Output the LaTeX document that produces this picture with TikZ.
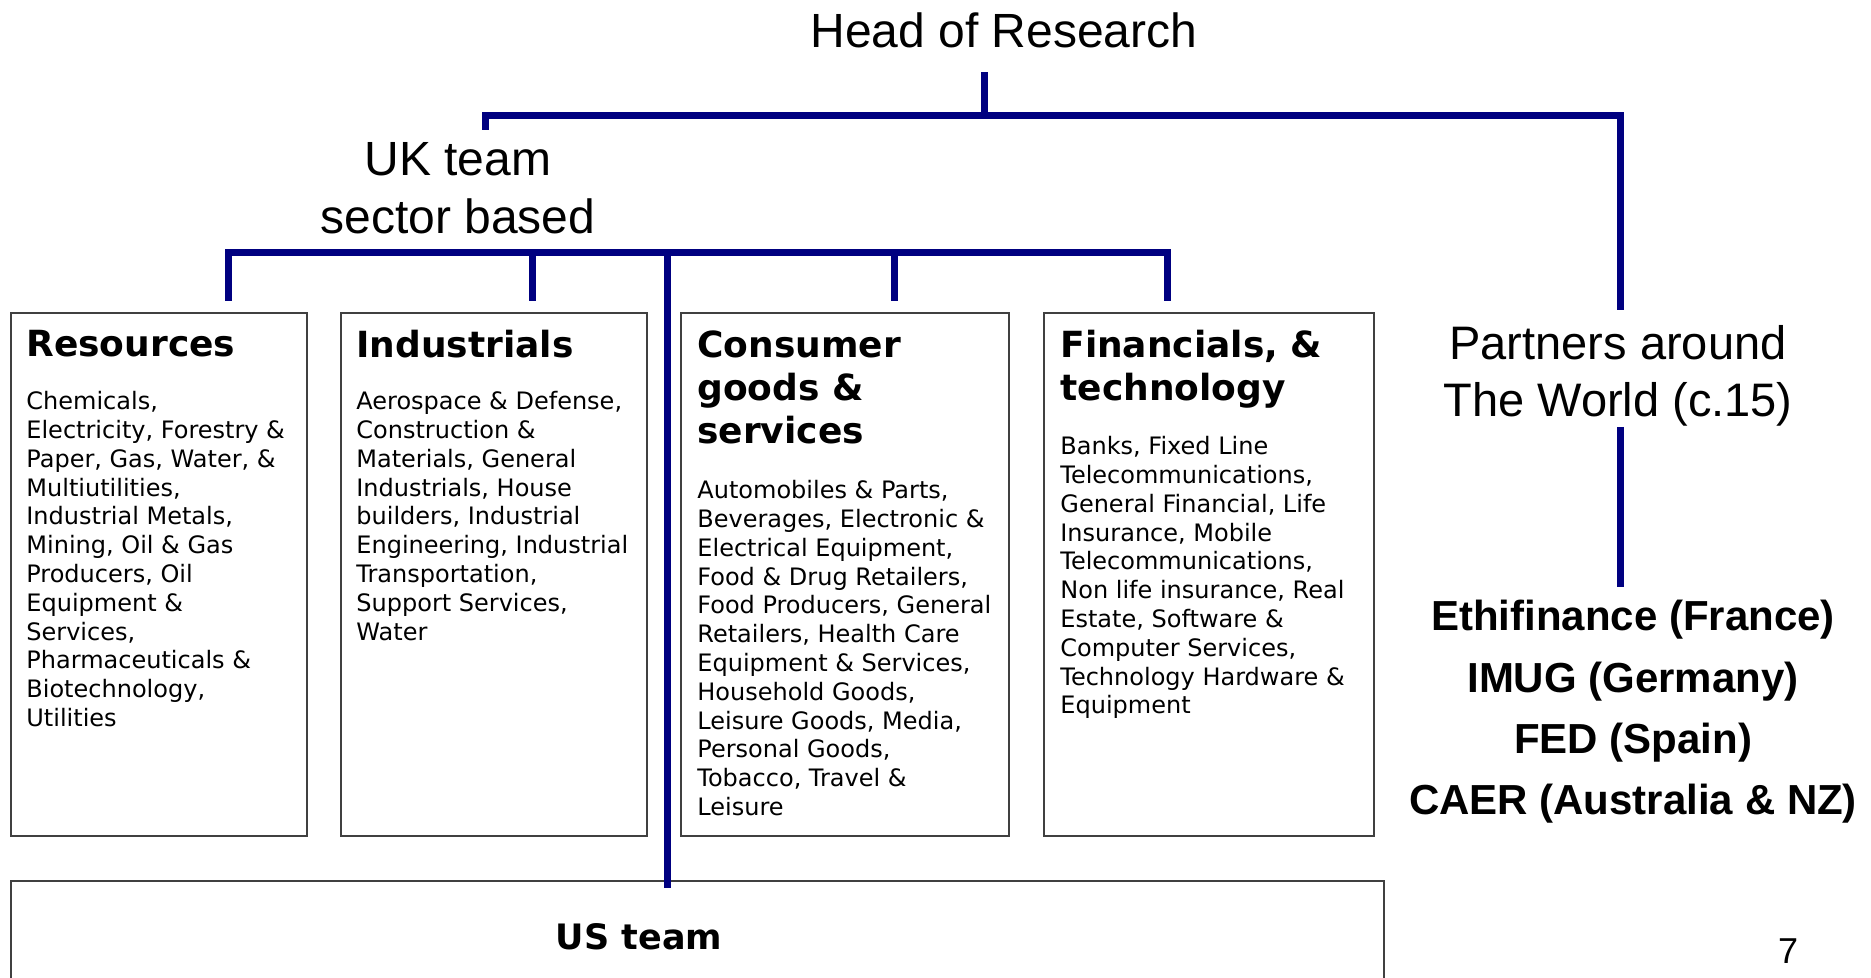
\documentclass[tikz,border=0pt]{standalone}
\usepackage{fontspec}
\setmainfont{Liberation Sans}
\newfontfamily\boxfont{DejaVu Sans}
\usepackage{tikz}
\definecolor{navy}{RGB}{0,0,128}
\newcommand{\hdfont}{\boxfont\bfseries\fontsize{18}{21.5}\selectfont}
\newcommand{\txfont}{\boxfont\fontsize{12}{14.4}\selectfont}

\begin{document}
\begin{tikzpicture}[x=0.5pt, y=-0.5pt,
    link/.style={navy, line width=3.5pt},
    sector/.style={draw=black!75, line width=1pt, anchor=north west, inner sep=0pt, outer sep=0pt},
    head/.style={anchor=north west, inner sep=0pt, align=left, font=\hdfont},
    body/.style={anchor=north west, inner sep=0pt, align=left, font=\txfont},
    title/.style={anchor=north, inner sep=0pt, align=center, font=\fontsize{24}{29}\selectfont}]
  \clip (0,0) rectangle (1871,978);
  \fill[white] (0,0) rectangle (1871,978);

  \node[title] (head) at (1004,12) {Head of Research};
  \node[title] (uk) at (458,142) {UK team\\sector based};
  \node[title, font=\fontsize{23.5}{28.6}\selectfont] (partners) at (1618,325) {Partners around\\The World (c.15)};
  \node[title, font=\bfseries\fontsize{21}{30.6}\selectfont] (list) at (1633,600)
    {Ethifinance (France)\\IMUG (Germany)\\FED (Spain)\\CAER (Australia \& NZ)};

  % sector boxes
  \node[sector, minimum width=148pt, minimum height=261.5pt] (res) at (11,313) {};
  \node[sector, minimum width=153pt, minimum height=261.5pt] (ind) at (341,313) {};
  \node[sector, minimum width=164pt, minimum height=261.5pt] (con) at (681,313) {};
  \node[sector, minimum width=165pt, minimum height=261.5pt] (fin) at (1044,313) {};
  \node[sector, minimum width=686.5pt, minimum height=80pt] (us) at (11,881) {};

  \node[head] (resH) at (26,330) {Resources};
  \node[body] (resB) at (26,391) {Chemicals,\\Electricity, Forestry \&\\Paper, Gas, Water, \&\\Multiutilities,\\Industrial Metals,\\Mining, Oil \& Gas\\Producers, Oil\\Equipment \&\\Services,\\Pharmaceuticals \&\\Biotechnology,\\Utilities};
  \node[head] (indH) at (356,330) {Industrials};
  \node[body] (indB) at (356,391) {Aerospace \& Defense,\\Construction \&\\Materials, General\\Industrials, House\\builders, Industrial\\Engineering, Industrial\\Transportation,\\Support Services,\\Water};
  \node[head] (conH) at (697,330) {Consumer\\goods \&\\services};
  \node[body] (conB) at (697,480) {Automobiles \& Parts,\\Beverages, Electronic \&\\Electrical Equipment,\\Food \& Drug Retailers,\\Food Producers, General\\Retailers, Health Care\\Equipment \& Services,\\Household Goods,\\Leisure Goods, Media,\\Personal Goods,\\Tobacco, Travel \&\\Leisure};
  \node[head] (finH) at (1060,330) {Financials, \&\\technology};
  \node[body] (finB) at (1060,436) {Banks, Fixed Line\\Telecommunications,\\General Financial, Life\\Insurance, Mobile\\Telecommunications,\\Non life insurance, Real\\Estate, Software \&\\Computer Services,\\Technology Hardware \&\\Equipment};
  \node[inner sep=0pt, font=\boxfont\bfseries\fontsize{17.5}{21}\selectfont] (usT) at (639,937) {US team};
  \node[anchor=north, inner sep=0pt, font=\fontsize{18}{22}\selectfont] (page) at (1788,938) {7};

  % tree lines
  \coordinate (hx) at (984.5,116);
  \coordinate (ux) at (485.5,0);
  \coordinate (px) at (1620,0);
  \coordinate (b1) at (228.5,252.5);
  \coordinate (b2) at (532,252.5);
  \coordinate (b3) at (894,252.5);
  \coordinate (b4) at (1167,252.5);
  \coordinate (b5) at (667.5,252.5);
  \draw[link, shorten <=12pt] (hx |- head.south) -- (hx);
  \draw[link, shorten <=6pt, shorten >=7.5pt] (ux |- uk.north) -- (ux |- hx) -| (px |- partners.north);
  \draw[link, shorten >=6.5pt] (px |- partners.south) -- (px |- list.north);
  \draw[link, shorten <=6pt, shorten >=6pt] (b1 |- res.north) |- (b4) -- (b4 |- fin.north);
  \foreach \i/\bx in {2/ind,3/con}
    \draw[link, shorten >=6pt] (b\i) -- (b\i |- \bx.north);
  \draw[link, shorten >=-3.5pt] (b5) -- (b5 |- us.north);
\end{tikzpicture}
\end{document}
